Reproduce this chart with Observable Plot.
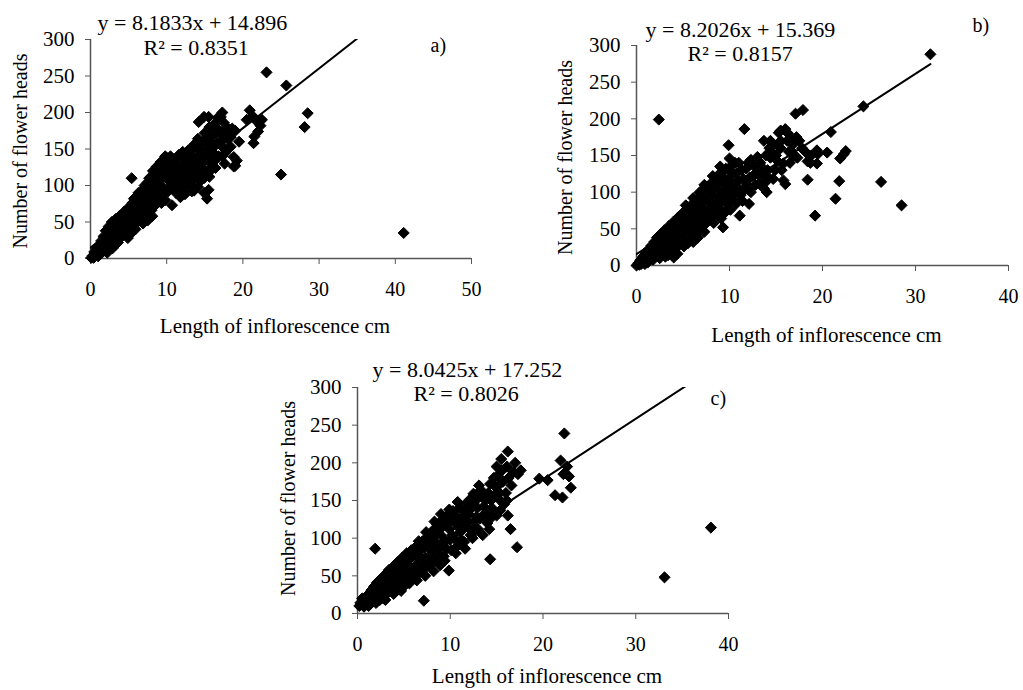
<!DOCTYPE html>
<html><head><meta charset="utf-8">
<script src="https://cdn.jsdelivr.net/npm/d3@7"></script>
<script src="https://cdn.jsdelivr.net/npm/@observablehq/plot@0.6"></script>
<style>
body{margin:0;background:#fff;}
#wrap{position:relative;width:1023px;height:690px;overflow:hidden;background:#fff;}
#wrap svg{position:absolute;}
</style></head><body><div id="wrap"></div>
<script>
// ---- data ----
const panelLetters = ["a)", "b)", "c)"];
const equations = ["y = 8.1833x + 14.896", "y = 8.2026x + 15.369", "y = 8.0425x + 17.252"];
const r2Labels = ["R² = 0.8351", "R² = 0.8157", "R² = 0.8026"];
const slopes = [8.1833, 8.2026, 8.0425];
const intercepts = [14.896, 15.369, 17.252];
const xAxisMax = [50, 40, 40];
const xTicksA = [0, 10, 20, 30, 40, 50];
const xTicksBC = [0, 10, 20, 30, 40];
const yTicks = [0, 50, 100, 150, 200, 250, 300];
const xTitle = "Length of inflorescence cm";
const yTitle = "Number of flower heads";

const aPoints = [[0.1,1],[0.3,4],[0.5,9],[0.6,3],[0.8,14],[0.9,7],[1.1,18],[1.2,10],[1.4,24],[1.5,14],[1.7,30],[1.8,19],[2,38],[2,12],[2.2,26],[2.4,44],[2.5,18],[2.7,34],[2.8,50],[3,24],[3,42],[3.3,54],[3.4,32],[3.6,46],[3.8,58],[3.9,28],[4,38],[4.2,52],[4.4,64],[4.5,34],[4.6,44],[4.8,58],[5,70],[5,40],[5.2,50],[5.4,64],[5.4,110],[5.5,76],[5.7,46],[5.8,56],[6,68],[6,82],[6.2,50],[6.4,62],[6.5,88],[6.6,74],[6.8,56],[7,68],[7,96],[7.2,82],[7.4,62],[7.5,104],[7.6,74],[7.8,90],[8,66],[8,112],[8.2,82],[8.4,100],[8.5,120],[8.6,74],[8.8,92],[9,108],[9,128],[9.2,84],[9.4,118],[9.5,98],[9.6,134],[9.8,80],[10,110],[10,138],[10.2,92],[10.3,124],[10.6,100],[10.8,134],[10.7,73],[11,116],[11.2,90],[11.4,128],[11.6,142],[11.8,84],[12,104],[12,120],[12.2,136],[12.4,88],[12.6,112],[12.8,148],[13,126],[13.2,100],[13.4,140],[13.6,156],[13.6,93],[13.8,116],[14,132],[14.1,164],[14.2,187],[14.4,106],[14.5,148],[14.8,122],[14.9,90],[14.9,194],[15,172],[15,138],[15.3,82],[15.4,156],[15.5,94],[15.5,194],[15.6,112],[15.8,130],[16,146],[16,168],[16.2,180],[16.4,124],[16.6,158],[16.7,193],[16.8,140],[17,172],[17.1,194],[17.3,200],[17.4,152],[17.6,130],[17.9,180],[18,164],[18.4,153],[18.4,166],[18.8,139],[18.8,126],[19,127],[19.2,134],[19,175],[19.5,160],[20.9,203],[21.3,195],[21.8,188],[22.3,182],[22,174],[21.5,167],[21.4,158],[22.5,190],[23.1,255],[25.7,237],[28.5,199],[28.1,180],[25,115],[41.1,35],
[0.4,1],[1,3],[1.3,6],[1.6,9],[2.2,8],[1.9,24],[2.3,31],[2.6,26],[2.9,14],[3.1,34],[3.2,18],[3.5,40],[3.6,22],[3.9,50],[4.1,30],[4.3,44],[4.7,50],[4.9,28],[5.1,60],[5.3,34],[5.6,68],[5.9,40],[6.1,58],[6.3,74],[6.7,66],[6.9,80],[6.9,48],[7.3,90],[7.5,52],[7.7,82],[7.9,98],[8.1,58],[8.3,108],[8.4,90],[8.7,82],[8.9,116],[9.1,96],[9.3,76],[9.5,126],[9.7,112],[9.9,92],[10.1,128],[10.4,106],[10.5,140],[10.9,118],[11.1,104],[11.3,136],[11.5,96],[11.9,112],[12.1,146],[12.3,128],[12.8,120],[12.9,104],[13.1,138],[13.3,150],[13.9,124],[14.3,140],[14.6,158],[14.7,112],[15.2,148],[15.7,140],[15.9,158],[16.3,134],[16.5,172],[17.2,162],[17.7,145],[18.2,172],[20.5,190],
[10.5,118],[10.9,96],[11.2,124],[11.6,110],[12.2,96],[12.4,140],[12.7,130],[13,116],[13.3,92],[13.5,108],[13.7,130],[14,150],[14.1,98],[14.3,120],[14.6,130],[14.9,110],[15.1,164],[15.3,120],[15.6,180],[15.9,122],[16.1,154],[16.4,186],[16.8,176],[17,158],[17.3,140],[17.5,186],[17.8,170],[18,150],[18.6,178],[5.7,82],[6.3,90],[7.1,100],[7.7,110],[8.2,120],[8.7,126],[9.2,132],[9.8,140],[2.1,20],[2.6,40],[3.3,26],[4.1,48],[4.9,52],[5.9,62],[6.5,58],[7.2,72],[8,100],[8.8,102]];

const bPoints = [[0,0],[0.2,3],[0.4,7],[0.5,2],[0.7,12],[0.8,5],[1,17],[1.1,9],[1.3,22],[1.4,12],[1.6,27],[1.7,15],[1.9,32],[2,19],[2.2,38],[2.3,13],[2.4,199],[2.5,24],[2.6,43],[2.8,30],[3,18],[3,48],[3.2,36],[3.4,26],[3.5,54],[3.7,42],[3.8,31],[4,11],[4,20],[4,60],[4.2,48],[4.3,36],[4.5,66],[4.6,28],[4.7,54],[4.9,42],[5,72],[5.2,60],[5.3,34],[5.5,78],[5.6,48],[5.8,66],[6,40],[6,84],[6.2,56],[6.4,72],[6.5,90],[6.7,48],[6.8,62],[7,80],[7,96],[7.2,54],[7.4,70],[7.5,104],[7.6,88],[7.8,62],[8,78],[8,112],[8.2,96],[8.4,70],[8.5,118],[8.6,86],[8.8,104],[9,76],[9,126],[9.2,94],[9.3,52],[9.4,112],[9.6,132],[9.7,84],[9.9,164],[10,100],[10,120],[10.2,136],[10.4,90],[10.6,110],[10.8,126],[11,140],[11.1,68],[11.2,96],[11.5,118],[11.6,186],[11.8,132],[12,104],[12.1,84],[12.3,144],[12.5,122],[12.8,110],[13,125],[13,148],[13.5,134],[13.7,105],[13.7,170],[14,100],[14.1,130],[14.2,120],[14.4,147],[14.4,170],[14.6,162],[14.9,130],[15.2,142],[15.3,181],[15.5,184],[15.5,170],[15.8,139],[15.8,116],[16,111],[16,186],[16.2,170],[16.4,155],[16.6,157],[16.8,165],[17.1,207],[17.3,147],[17.5,170],[17.9,212],[18,157],[18.4,117],[18.4,142],[18.4,152],[18.8,150],[19.2,68],[19.4,139],[19.4,157],[19.5,152],[20.5,154],[20.9,182],[21.4,91],[21.8,115],[21.9,146],[22.3,152],[22.5,156],[24.4,217],[26.3,114],[28.5,82],[31.6,288],
[0.3,1],[0.9,2],[1.2,4],[1.5,20],[1.8,8],[2.1,28],[2.4,33],[2.7,18],[2.9,38],[3.1,12],[3.3,42],[3.6,22],[3.9,52],[4.1,40],[4.4,56],[4.4,16],[4.8,62],[5.1,50],[5.4,66],[5.1,26],[5.7,56],[5.9,74],[6.1,32],[6.3,64],[6.6,80],[6.6,38],[6.9,70],[7.1,88],[7.3,46],[7.7,96],[7.9,72],[8.1,104],[8.3,58],[8.7,112],[8.9,94],[9.1,64],[9.3,120],[9.5,102],[9.8,112],[10.1,76],[10.3,126],[10.5,100],[10.9,116],[11.3,130],[11.7,104],[12.2,120],[12.6,136],[13.3,140],[13.9,150],[14.3,160],[15,150],[15.5,160],[16.3,180],[16.8,150],[17.2,175],
[1.9,12],[2.5,10],[3.4,14],[3.9,24],[4.6,42],[5,36],[5.5,30],[6.1,50],[6.5,44],[7,60],[7.5,58],[7.9,66],[8.3,82],[8.7,76],[9.1,88],[9.5,72],[9.9,92],[10.3,110],[10.7,84],[11,104],[11.4,88],[11.8,112],[12.3,100],[12.7,124],[13.2,112],[13.6,122],[12,140],[10.6,140],[10,146],[9,135],[8.2,122],[7.3,110],[6.8,100],[6.1,92],[5.3,82],[14.8,150],[15.2,165],[16.5,172],[17,150],[17.8,160],[18.7,140],[15.6,130],[16.5,140],[14.7,118],[13.9,114]];

const cPoints = [[0.2,10],[0.4,12],[0.6,16],[0.7,9],[0.9,21],[1,13],[1.2,26],[1.3,16],[1.5,31],[1.6,19],[1.8,36],[1.9,86],[2,23],[2.1,41],[2.3,28],[2.5,46],[2.6,20],[2.8,34],[3,52],[3,24],[3.2,40],[3.4,58],[3.5,30],[3.7,47],[3.9,63],[4,35],[4.1,54],[4.3,68],[4.4,42],[4.6,60],[4.8,74],[4.9,48],[5,36],[5.1,66],[5.3,80],[5.4,54],[5.6,72],[5.8,84],[5.9,46],[6,60],[6.2,78],[6.4,90],[6.5,52],[6.6,68],[6.8,84],[7,96],[7.1,58],[7.15,17],[7.3,74],[7.5,90],[7.6,102],[7.8,64],[8,82],[8.1,110],[8.3,96],[8.5,70],[8.6,118],[8.8,86],[9,104],[9.1,124],[9.3,76],[9.5,96],[9.7,130],[9.85,57],[9.9,112],[10.1,84],[10.3,136],[10.4,100],[10.6,120],[10.8,90],[11,140],[11.1,108],[11.3,128],[11.5,95],[11.7,116],[12,150],[12,132],[12.2,104],[12.5,159],[12.6,122],[12.9,140],[13,112],[13.3,164],[13.5,130],[13.8,150],[14,120],[14.3,72],[14.3,172],[14.5,140],[14.8,158],[15,130],[15.1,183],[15.2,170],[15.4,150],[15.4,137],[15.6,190],[16,160],[16.1,150],[16.2,215],[16.5,112],[17,200],[17.2,88],[17.6,190],[19.6,179],[20.5,177],[21.3,157],[22.1,154],[21.9,203],[22.3,239],[22.6,195],[22.8,182],[23,167],[22.2,185],[33.1,48],[38.1,114],
[0.3,14],[0.5,20],[0.8,11],[1.1,18],[1.4,22],[1.7,26],[2.2,33],[2.4,18],[2.7,40],[2.9,29],[3.1,46],[3.3,32],[3.6,52],[3.8,38],[4.2,60],[4.5,50],[4.7,66],[4.5,34],[5,58],[5.2,72],[5.5,44],[5.7,62],[5.9,76],[6.1,52],[6.3,84],[6.7,76],[6.9,60],[7.2,88],[7.4,66],[7.7,96],[7.9,76],[8.2,90],[8.4,104],[8.7,80],[8.9,112],[9.2,94],[9.4,118],[9.6,86],[10,122],[10.2,104],[10.5,130],[10.9,114],[11.2,98],[11.5,136],[11.9,122],[12.3,140],[12.7,110],[12.9,152],[13.2,126],[13.6,142],[14.1,160],[14.5,128],[14.9,168],[15.3,160],[15.7,175],[16.3,180],[16.6,170],
[1.2,10],[2,14],[3,18],[3.9,26],[4.7,30],[5.6,40],[6.4,44],[7.3,50],[8.2,56],[8.9,64],[9.4,70],[10.6,80],[11.6,86],[12.4,100],[13.5,104],[10,98],[11,120],[12.1,112],[12.8,128],[13.6,158],[13.9,132],[14.4,150],[14.7,180],[15,195],[15.5,205],[16.1,195],[16.8,188],[17.3,185],[15.8,145],[16.2,130],[14.2,112],[13.1,170],[12.5,146],[11.8,146],[10.8,148],[9.9,138],[9,132],[8.3,122],[7.4,108],[6.6,96]];

const panelPoints = [aPoints, bPoints, cPoints];
const panelXTicks = [xTicksA, xTicksBC, xTicksBC];

// ---- layout (pixels) ----
const layout = [
  {left: 0, top: 0, width: 510, height: 345, mL: 90, mR: 39, mT: 39, mB: 87,
   eq: [7, -17], r2: [53, 8], let: [340, 6], yl: [-70, 2], xl: [-6, 68]},
  {left: 530, top: 0, width: 493, height: 350, mL: 106, mR: 15, mT: 45, mB: 85,
   eq: [9, -16], r2: [51, 8], let: [336, -20], yl: [-71, 2], xl: [4, 70]},
  {left: 260, top: 340, width: 500, height: 350, mL: 97, mR: 32, mT: 47, mB: 77,
   eq: [15, -18], r2: [56, 6], let: [353, 11], yl: [-69, -2], xl: [4, 63]}
];

const FONT = "'Liberation Serif', 'Times New Roman', serif";
const wrap = document.getElementById("wrap");

layout.forEach((L, i) => {
  const pts = panelPoints[i].map(([x, y]) => ({x, y}));
  const xEnd = d3.max(pts, d => d.x);
  const trend = [0, xEnd].map(x => ({x, y: intercepts[i] + slopes[i] * x}));
  const txt = (s, anchor, d, extra = {}) => Plot.text([s], {
    frameAnchor: anchor, dx: d[0], dy: d[1], textAnchor: "start", lineAnchor: "middle", fill: "black", fontSize: 22, ...extra
  });
  const chart = Plot.plot({
    width: L.width, height: L.height,
    marginLeft: L.mL, marginRight: L.mR, marginTop: L.mT, marginBottom: L.mB,
    style: {fontFamily: FONT, fontSize: "20px", background: "transparent", overflow: "visible", color: "black"},
    x: {domain: [0, xAxisMax[i]]},
    y: {domain: [0, 300]},
    marks: [
      Plot.axisX(panelXTicks[i], {tickSize: 6, tickPadding: 17, stroke: "#555", label: null, fontSize: 20}),
      Plot.axisY(yTicks, {tickSize: 5, tickPadding: 11, stroke: "#555", label: null, fontSize: 21}),
      Plot.ruleY([0], {stroke: "#555", strokeWidth: 1.5}),
      Plot.ruleX([0], {stroke: "#555", strokeWidth: 1.5}),
      Plot.dot(pts, {x: "x", y: "y", symbol: "diamond2", r: 5, fill: "black", stroke: "black", strokeWidth: 1}),
      Plot.line(trend, {x: "x", y: "y", stroke: "black", strokeWidth: 2, clip: true}),
      txt(equations[i], "top-left", L.eq),
      txt(r2Labels[i], "top-left", L.r2),
      txt(panelLetters[i], "top-left", L.let, {fontSize: 20}),
      Plot.text([yTitle], {frameAnchor: "left", dx: L.yl[0], dy: L.yl[1], rotate: -90, textAnchor: "middle", lineAnchor: "middle", fill: "black"}),
      Plot.text([xTitle], {frameAnchor: "bottom", dx: L.xl[0], dy: L.xl[1], textAnchor: "middle", lineAnchor: "middle", fill: "black", fontSize: 21})
    ]
  });
  chart.style.left = L.left + "px";
  chart.style.top = L.top + "px";
  chart.style.maxWidth = "none";
  wrap.appendChild(chart);
});
</script></body></html>
